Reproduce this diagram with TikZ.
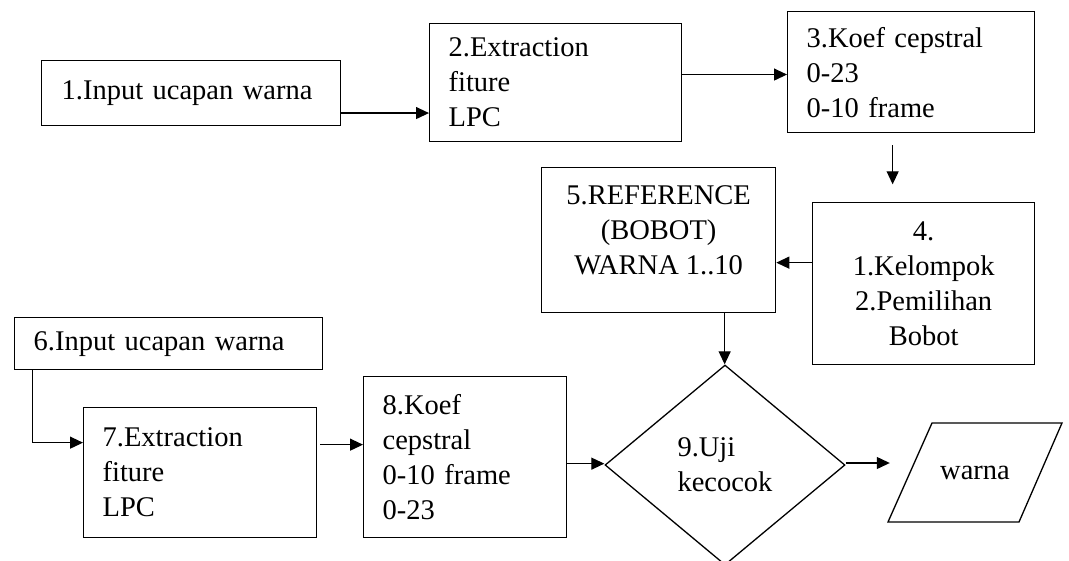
\documentclass[tikz,border=0pt]{standalone}
\usepackage{fontspec}
\setmainfont{Liberation Serif}
\usetikzlibrary{arrows.meta,shapes.geometric,calc}
\begin{document}
\begin{tikzpicture}[x=1pt,y=-1pt,
  txt/.style={font=\fontsize{28.5}{35}\selectfont},
  box/.style={draw,line width=1.3pt,inner sep=0pt,txt,anchor=north west},
  lbox/.style={box,align=left},
  cbox/.style={box,align=center},
  arr/.style={line width=1.2pt,-{Triangle[length=13pt,width=12pt]}}]
\useasboundingbox (0,0) rectangle (1069,560);
% boxes
\node[lbox,minimum width=299pt,minimum height=65pt,text width=259pt] (b1) at (41,60) {1.Input ucapan warna};
\node[lbox,minimum width=252pt,minimum height=118pt,text width=214pt] (b2) at (429,23) {2.Extraction\\fiture\\LPC};
\node[lbox,minimum width=247pt,minimum height=121pt,text width=209pt] (b3) at (787,11) {3.Koef cepstral\\0-23\\0-10 frame};
\node[cbox,minimum width=222pt,minimum height=162pt] (b4) at (812,202) {4.\\1.Kelompok\\2.Pemilihan\\Bobot};
\node[cbox,minimum width=234pt,minimum height=145pt] (b5) at (541,167) {5.REFERENCE\\(BOBOT)\\WARNA 1..10\\[-15pt]\mbox{}};
\node[lbox,minimum width=308pt,minimum height=52pt,text width=270pt] (b6) at (14,317) {6.Input ucapan warna};
\node[lbox,minimum width=233pt,minimum height=130pt,text width=195pt] (b7) at (83,407) {7.Extraction\\fiture\\LPC};
\node[lbox,minimum width=203pt,minimum height=161pt,text width=165pt] (b8) at (363,376) {8.Koef\\cepstral\\0-10 frame\\0-23};
\node[draw,line width=1.3pt,diamond,aspect=1.2,minimum width=240pt,minimum height=200pt,inner sep=0pt,txt,align=left] (d9) at (725,465) {9.Uji\\kecocok};
% output parallelogram
\node[txt,inner sep=0pt,minimum width=130pt,minimum height=99pt] (out) at (975,472.5) {warna};
\draw[line width=1.3pt,line join=miter]
  ([xshift=-87pt,yshift=-49.5pt]out.center) -- ([xshift=-43pt,yshift=49.5pt]out.center) --
  ([xshift=87pt,yshift=49.5pt]out.center) -- ([xshift=44pt,yshift=-49.5pt]out.center) -- cycle;
% connectors
\draw[arr] ($(b1.south east)!0.2!(b1.north east)$) coordinate (p12) -- (p12 -| b2.west);
\draw[arr] ($(b2.south east)!0.568!(b2.north east)$) coordinate (p23) -- (p23 -| b3.west);
\draw[arr] ([xshift=-18.5pt,yshift=-12pt]b3.south) -- ([xshift=-18.5pt,yshift=-51pt]b3.south);
\draw[arr] ([yshift=21pt]b4.west) coordinate (p45) -- (p45 -| b5.east);
\draw[arr] ([xshift=66pt]b5.south) coordinate (p59) -- (p59 |- d9.north);
\draw[arr] ([xshift=-136pt]b6.south) |- ([yshift=30pt]b7.west);
\draw[arr] ([xshift=3pt,yshift=28pt]b7.east) coordinate (p78) -- (p78 -| b8.west);
\draw[arr] ([yshift=-6.5pt]b8.east) coordinate (p89) -- (p89 -| d9.west);
\coordinate (tip) at ([xshift=-20pt]out.west);
\draw[arr] ([yshift=2pt]d9.east) coordinate (p9o) -- (p9o -| tip);
\end{tikzpicture}
\end{document}
